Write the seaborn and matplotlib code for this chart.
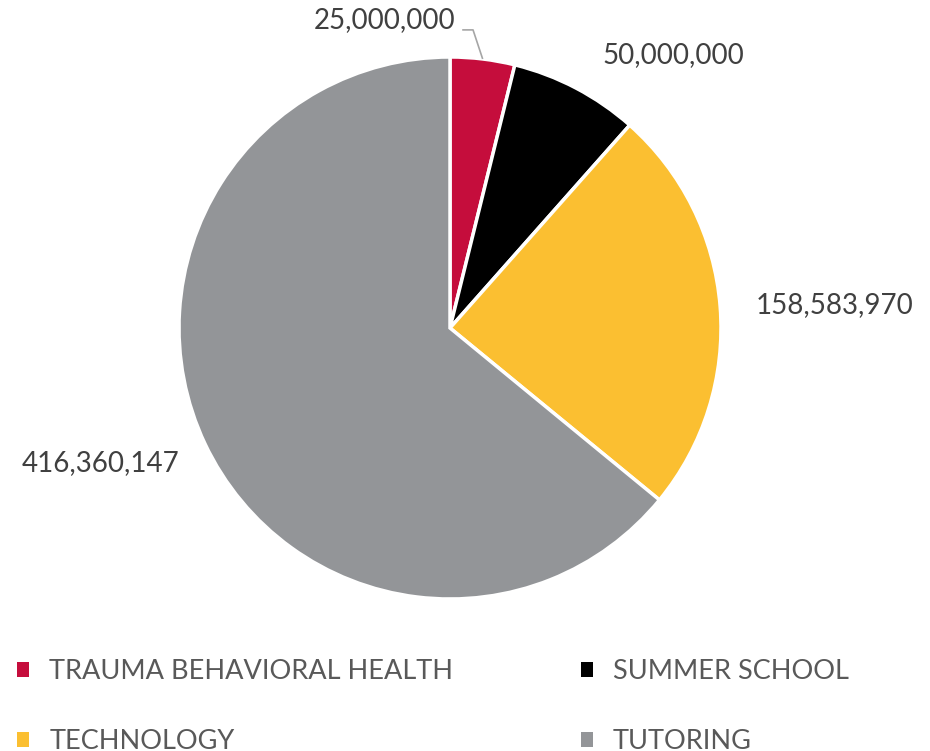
import numpy as np
import matplotlib.pyplot as plt
import seaborn as sns

# data
categories = ['TRAUMA BEHAVIORAL HEALTH', 'SUMMER SCHOOL', 'TECHNOLOGY', 'TUTORING']
amounts = [25000000, 50000000, 158583970, 416360147]
colors = ['#C50D3C', '#000000', '#FBBF31', '#939598']

sns.set_theme(style='white')
plt.rcParams['font.family'] = ['Lato', 'DejaVu Sans']

W, H = 930, 751
fig = plt.figure(figsize=(W / 100, H / 100), dpi=100)
ax = fig.add_axes([0, 0, 1, 1])

# pie center in pixels and radius
cx, cy, r = 450, 423, 271

wedges, _ = ax.pie(amounts, colors=sns.color_palette(colors), startangle=90, counterclock=False,
                   wedgeprops=dict(edgecolor='white', linewidth=2.5))
ax.set_xlim(-cx / r, (W - cx) / r)
ax.set_ylim(-cy / r, (H - cy) / r)
ax.set_aspect('auto')
ax.axis('off')

# data labels
total = sum(amounts)
label_pos = [(-0.24, 1.137), (0.823, 1.007), (1.42, 0.085), (-1.29, -0.498)]
for i, v in enumerate(amounts):
    ax.text(label_pos[i][0], label_pos[i][1], f'{v:,}', ha='center', va='center',
            fontsize=20, color='#404040')

# leader line for the small slice
start = 90 - 360 * amounts[0] / total / 2
px, py = np.cos(np.radians(start)), np.sin(np.radians(start))
ax.plot([0.045, 0.085, px], [1.10, 1.10, py], color='#A6A6A6', lw=1.2, solid_capstyle='butt')

# legend, row-wise order
order = [0, 2, 1, 3]
leg = fig.legend([wedges[i] for i in order], [categories[i] for i in order], ncol=2,
                 loc='upper left', bbox_to_anchor=(0.018, 0.122), frameon=False,
                 borderpad=0, borderaxespad=0,
                 fontsize=19.5, handlelength=0.45, handleheight=0.45, handletextpad=0.75,
                 columnspacing=4.7, labelspacing=1.65, labelcolor='#595959')
for h in leg.legend_handles:
    h.set_edgecolor('none')

fig.savefig('out.png', dpi=100)
